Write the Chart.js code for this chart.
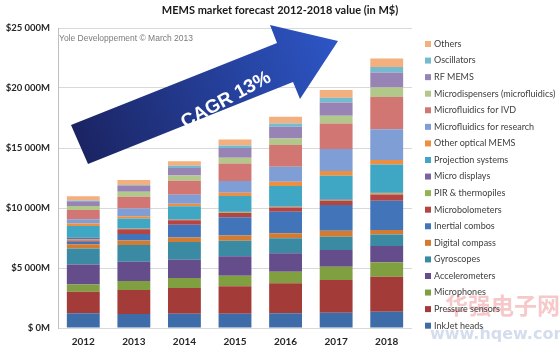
<!DOCTYPE html>
<html>
<head>
<meta charset="utf-8">
<script src="https://cdn.jsdelivr.net/npm/chart.js@4/dist/chart.umd.min.js"></script>
<style>
body { margin: 0; background: #fff; }
#wrap { position: relative; width: 560px; height: 351px; }
</style>
</head>
<body>
<div id="wrap"><canvas id="mems-chart"></canvas></div>
<script>
// values in M$
var years = ["2012", "2013", "2014", "2015", "2016", "2017", "2018"];
var yTickLabels = ["$ 0M", "$5 000M", "$10 000M", "$15 000M", "$20 000M", "$25 000M"];

var inkjetHeads      = [1220, 1170, 1190, 1190, 1220, 1280, 1360];
var pressureSensors  = [1800, 2000, 2140, 2280, 2500, 2720, 2920];
var microphones      = [600, 750, 830, 890, 970, 1110, 1190];
var accelerometers   = [1670, 1600, 1530, 1610, 1530, 1390, 1360];
var gyroscopes       = [1330, 1390, 1470, 1310, 1250, 1110, 970];
var digitalCompass   = [360, 390, 390, 420, 420, 500, 360];
var inertialCombos   = [200, 530, 1060, 1530, 1800, 2140, 2440];
var microbolometers  = [120, 390, 360, 360, 360, 360, 530];
var pirThermopiles   = [80, 50, 50, 60, 60, 60, 100];
var microDisplays    = [150, 30, 50, 40, 40, 40, 70];
var projection       = [970, 830, 1070, 1300, 1680, 1980, 2330];
var otherOptical     = [200, 190, 220, 280, 360, 390, 360];
var fluidicsResearch = [360, 640, 750, 970, 1250, 1830, 2580];
var fluidicsIVD      = [780, 970, 1170, 1470, 1800, 2140, 2690];
var microdispensers  = [330, 420, 420, 470, 560, 640, 780];
var rfMems           = [400, 500, 640, 830, 970, 1110, 1250];
var oscillators      = [50, 60, 190, 190, 280, 390, 470];
var others           = [360, 420, 360, 500, 550, 640, 690];

var seriesNames = ["InkJet heads", "Pressure sensors", "Microphones", "Accelerometers",
    "Gyroscopes", "Digital compass", "Inertial combos", "Microbolometers",
    "PIR & thermopiles", "Micro displays", "Projection systems", "Other optical MEMS",
    "Microfluidics for research", "Microfluidics for IVD", "Microdispensers (microfluidics)",
    "RF MEMS", "Oscillators", "Others"];
var seriesValues = [inkjetHeads, pressureSensors, microphones, accelerometers,
    gyroscopes, digitalCompass, inertialCombos, microbolometers,
    pirThermopiles, microDisplays, projection, otherOptical,
    fluidicsResearch, fluidicsIVD, microdispensers, rfMems, oscillators, others];
var seriesColors = ["#3e6ca8", "#a33b38", "#809f40", "#654c8a", "#3a8aa3", "#d27c33",
    "#4274ba", "#b54442", "#93b34e", "#7c62a0", "#3fa6c3", "#ee8e41",
    "#7f9ed6", "#d27674", "#b1c88a", "#9783b4", "#75bbd0", "#f3af7d"];

let datasets = seriesNames.map(function (name, i) {
    return {
        label: name,
        data: seriesValues[i],
        backgroundColor: seriesColors[i],
        borderWidth: 0,
        categoryPercentage: 1,
        barPercentage: 0.65
    };
});

// legend drawn by hand so it sits where the original one does
let sideLegend = {
    id: "sideLegend",
    afterDraw: function (chart) {
        let ctx = chart.ctx;
        let sets = chart.data.datasets;
        ctx.save();
        ctx.font = "9px Lato";
        ctx.textBaseline = "middle";
        ctx.textAlign = "left";
        for (let k = 0; k < sets.length; k++) {
            let ds = sets[sets.length - 1 - k];
            let y = 44 + k * 16.57;
            ctx.fillStyle = ds.backgroundColor;
            ctx.fillRect(425, y - 3, 6, 6);
            ctx.fillStyle = "#404040";
            ctx.fillText(ds.label, 434, y);
        }
        ctx.restore();
    }
};

let decorations = {
    id: "decorations",
    afterDatasetsDraw: function (chart) {
        let ctx = chart.ctx;
        ctx.save();
        ctx.font = "8.5px 'Liberation Sans'";
        ctx.fillStyle = "#7a7a7a";
        ctx.textBaseline = "middle";
        ctx.fillText("Yole Developpement \u00a9 March 2013", 59, 39);

        // CAGR arrow
        let grad = ctx.createLinearGradient(80, 145, 338, 40);
        grad.addColorStop(0, "#1b2463");
        grad.addColorStop(1, "#2d56c6");
        ctx.fillStyle = grad;
        ctx.beginPath();
        ctx.moveTo(71, 125);
        ctx.lineTo(277, 43);
        ctx.lineTo(270, 25);
        ctx.lineTo(338, 41);
        ctx.lineTo(300, 99);
        ctx.lineTo(293, 82);
        ctx.lineTo(88, 164);
        ctx.closePath();
        ctx.fill();

        ctx.translate(226, 100);
        ctx.rotate(-0.5);
        ctx.font = "bold 19px 'Liberation Sans'";
        ctx.fillStyle = "#ffffff";
        ctx.textAlign = "center";
        ctx.fillText("CAGR 13%", 0, 0);
        ctx.restore();
    },
    afterDraw: function (chart) {
        let ctx = chart.ctx;
        ctx.save();
        ctx.globalAlpha = 0.3;
        ctx.textBaseline = "middle";
        ctx.font = "bold 23px 'Noto Sans CJK SC'";
        ctx.fillStyle = "#e5484d";
        ctx.fillText("华强电子网", 445, 305);
        ctx.font = "bold 16px 'DejaVu Sans'";
        ctx.fillStyle = "#6f8fc4";
        ctx.fillText("www.hqew.com", 430, 335);
        ctx.restore();
    }
};

let tickFont = { family: "Lato", size: 9.5, weight: "bold" };

let chartOptions = {
    responsive: true,
    maintainAspectRatio: false,
    animation: false,
    layout: { padding: 0 },
    plugins: {
        legend: { display: false },
        tooltip: { enabled: false },
        title: {
            display: true,
            text: "MEMS market forecast 2012-2018 value (in M$)",
            color: "#1a1a1a",
            font: { family: "Lato", size: 11, weight: "bold" },
            padding: { top: 4, bottom: 10.8 }
        }
    },
    scales: {
        x: {
            stacked: true,
            grid: { display: false, drawTicks: false },
            border: { display: false },
            ticks: { color: "#262626", font: { family: "Lato", size: 10, weight: "bold" }, padding: 8 },
            afterFit: function (scale) { scale.height = 23; }
        },
        y: {
            stacked: true,
            min: 0,
            max: 25000,
            grid: { color: "#d9d9d9", drawTicks: false },
            border: { display: true, color: "#bfbfbf" },
            ticks: {
                stepSize: 5000,
                color: "#262626",
                font: tickFont,
                padding: 8,
                callback: function (value) { return yTickLabels[Math.round(value / 5000)]; }
            },
            afterFit: function (scale) { scale.width = 58; }
        },
        // empty right-hand axis that keeps room for the legend
        legendSpace: {
            position: "right",
            display: true,
            grid: { display: false, drawTicks: false },
            border: { display: false },
            ticks: { display: false },
            afterFit: function (scale) { scale.width = 148; }
        }
    }
};

let ctx = document.getElementById("mems-chart").getContext("2d");
new Chart(ctx, {
    type: "bar",
    data: { labels: years, datasets: datasets },
    options: chartOptions,
    plugins: [decorations, sideLegend]
});
</script>
</body>
</html>
